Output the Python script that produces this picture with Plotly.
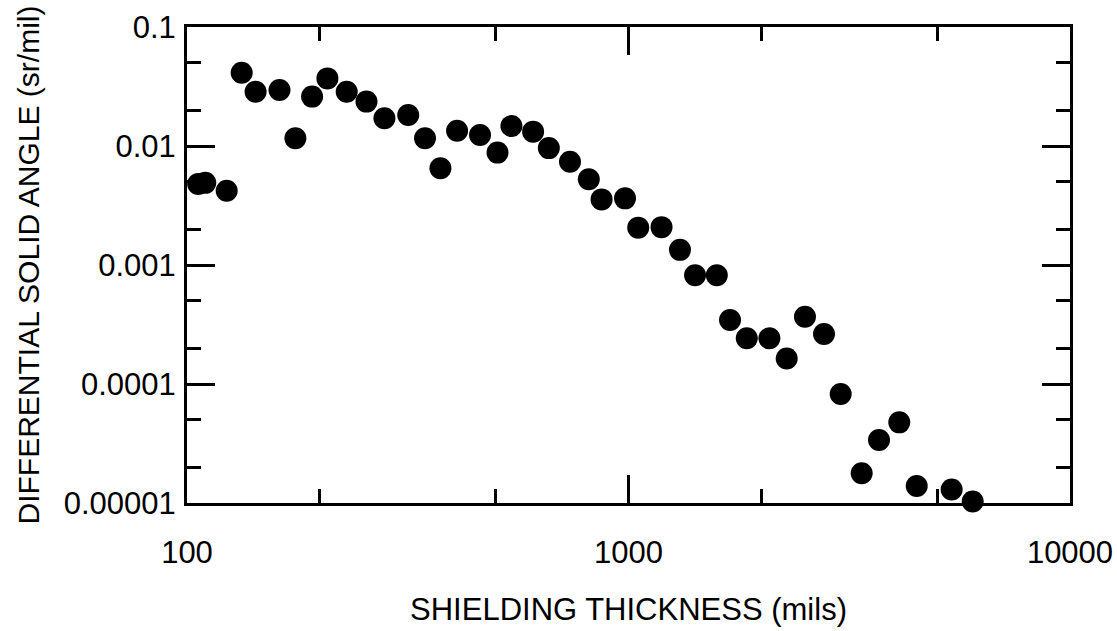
import plotly.graph_objects as go

# Shielding thickness (mils) and differential solid angle (sr/mil)
thickness = [106, 110, 123, 133, 143, 162, 176, 192, 208, 230, 255, 280, 317, 346, 375, 409,
             461, 505, 543, 608, 660, 737, 813, 869, 982, 1052, 1188, 1308, 1415, 1585,
             1698, 1853, 2085, 2282, 2510, 2772, 3024, 3374, 3693, 4105, 4496, 5395, 6020]
solid_angle = [0.0048, 0.0049, 0.0042, 0.0413, 0.0286, 0.0296, 0.0116, 0.026, 0.037, 0.0286,
               0.0236, 0.0171, 0.0182, 0.0116, 0.0065, 0.01345,
               0.01237, 0.0088, 0.0147, 0.0132, 0.0096, 0.00738, 0.00525, 0.00356, 0.00363,
               0.00206, 0.00208, 0.00134, 0.00082, 0.00082,
               0.000345, 0.000242, 0.000242, 0.000164, 0.000368, 0.000263, 8.24e-5,
               1.78e-5, 3.39e-5, 4.76e-5, 1.39e-5, 1.30e-5, 1.03e-5]

x_ticks = [100, 1000, 10000]
x_tick_labels = ["100", "1000", "10000"]
y_ticks = [0.00001, 0.0001, 0.001, 0.01, 0.1]
y_tick_labels = ["0.00001", "0.0001", "0.001", "0.01", "0.1"]

FONT = "Liberation Sans, Arial, sans-serif"

fig = go.Figure()
fig.add_trace(go.Scatter(
    x=thickness, y=solid_angle, mode="markers",
    marker=dict(size=22, color="black", line=dict(width=0)),
    cliponaxis=False, showlegend=False,
))

axis_common = dict(
    type="log",
    automargin=False,
    showline=True, linecolor="black", linewidth=3,
    mirror="allticks",
    ticks="inside", ticklen=28, tickwidth=2.5, tickcolor="black",
    showgrid=False, zeroline=False,
    ticklabeloverflow="allow",
    tickfont=dict(family=FONT, size=31, color="black"),
    minor=dict(dtick="D2", ticks="inside", ticklen=14, tickwidth=2.5,
               tickcolor="black", showgrid=False),
)

fig.update_layout(
    width=1117, height=631,
    margin=dict(l=187, r=47, t=27, b=128),
    paper_bgcolor="white", plot_bgcolor="white",
    font=dict(family=FONT, color="black"),
    xaxis=dict(
        **axis_common,
        range=[2, 4],
        tickmode="array", tickvals=x_ticks, ticktext=x_tick_labels,
        ticklabelstandoff=20,
        title=dict(text="SHIELDING THICKNESS (mils)",
                   font=dict(family=FONT, size=31, color="black"), standoff=30),
    ),
    yaxis=dict(
        **axis_common,
        range=[-5, -1],
        tickmode="array", tickvals=y_ticks, ticktext=y_tick_labels,
        ticklabelstandoff=2,
        title=dict(text="DIFFERENTIAL SOLID ANGLE (sr/mil)",
                   font=dict(family=FONT, size=30, color="black"), standoff=16),
    ),
)

fig.write_html("out.html")
